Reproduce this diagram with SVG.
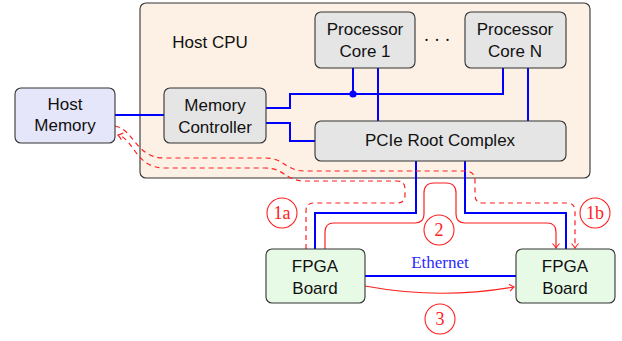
<svg xmlns="http://www.w3.org/2000/svg" width="622" height="341" viewBox="0 0 622 341">
<style>
.node{stroke:#333;stroke-width:1.1}
.gray{fill:#e5e5e5}
.lbl{font-family:"Liberation Sans",Arial,sans-serif;font-size:17px;fill:#111;text-anchor:middle}
.blue{fill:none;stroke:#0000ff;stroke-width:2}
.red{fill:none;stroke:#ff2020;stroke-width:1.2}
.dash{stroke-dasharray:5,4}
.num{font-family:"Liberation Serif","Times New Roman",serif;font-size:18px;fill:#ff2020;text-anchor:middle}
.circ{fill:none;stroke:#ff2020;stroke-width:1.1}
</style>
<defs>
<marker id="arr" viewBox="-6 -5 8 10" markerWidth="8" markerHeight="10" refX="0" refY="0" orient="auto" markerUnits="userSpaceOnUse">
<path d="M-4.5,-3.5 Q-1.5,-0.8 0,0 Q-1.5,0.8 -4.5,3.5" fill="none" stroke="#ff2020" stroke-width="1.1"/>
</marker>
</defs>
<g id="host-cpu">
<rect x="140" y="3" width="450" height="175" rx="6" fill="#fdf0e4" class="node"/>
<text x="210" y="48" class="lbl">Host CPU</text>
<text x="437" y="46" font-family="Liberation Serif,serif" font-size="18" text-anchor="middle" fill="#111">· · ·</text>
</g>
<g id="connectors">
<path class="blue" d="M115,115 H164"/>
<path class="blue" d="M266,108 H290 V94 H503 V68"/>
<path class="blue" d="M353,94 V68"/>
<circle cx="353" cy="94" r="3.6" fill="#0000ff"/>
<path class="blue" d="M266,123 H290 V141 H315"/>
<path class="blue" d="M378,68 V121"/>
<path class="blue" d="M528,68 V121"/>
<path class="blue" d="M416,161 V213 H315 V249"/>
<path class="blue" d="M465,161 V213 H566 V249"/>
<path class="blue" d="M365,276 H516"/>
<path class="red dash" d="M115,126 C135,130 135,158 165,158 H265 C285,158 285,171 305,171 H465 Q475,171 475,181 V195 Q475,203 483,203 H567 Q575,203 575,211 V248" marker-end="url(#arr)"/>
<path class="red dash" d="M306,249 V211 Q306,203 314,203 H397 Q405,203 405,195 V189 Q405,181 397,181 H305 C285,181 285,168 265,168 H165 C135,168 135,140 118,135" marker-end="url(#arr)"/>
<path class="red" d="M325,249 V232 Q325,223 334,223 H415 Q424,223 424,214 V193 Q424,183 434,183 H446 Q456,183 456,193 V214 Q456,223 465,223 H547 Q556,223 556,232 V248" marker-end="url(#arr)"/>
<path class="red" d="M365,286 Q440,300 514,287" marker-end="url(#arr)"/>
<text x="440" y="268" font-family="Liberation Serif,'Times New Roman',serif" font-size="17" fill="#2a2aff" text-anchor="middle">Ethernet</text>
<circle cx="282" cy="213" r="15" class="circ"/><text x="282" y="219" class="num">1a</text>
<circle cx="595" cy="213" r="15" class="circ"/><text x="595" y="219" class="num">1b</text>
<circle cx="439" cy="230" r="15" class="circ"/><text x="439" y="236" class="num">2</text>
<circle cx="440" cy="319" r="15" class="circ"/><text x="440" y="325" class="num">3</text>
</g>
<g id="host-memory">
<rect x="15" y="88" width="100" height="55" rx="6" fill="#e6e6fa" class="node"/>
<text x="65" y="110" class="lbl">Host</text>
<text x="65" y="131" class="lbl">Memory</text>
</g>
<g id="memory-controller">
<rect x="164" y="88" width="102" height="55" rx="6" class="node gray"/>
<text x="215" y="111" class="lbl">Memory</text>
<text x="215" y="133" class="lbl">Controller</text>
</g>
<g id="core-1">
<rect x="315" y="12" width="100" height="56" rx="6" class="node gray"/>
<text x="365" y="35" class="lbl">Processor</text>
<text x="365" y="57" class="lbl">Core 1</text>
</g>
<g id="core-n">
<rect x="465" y="12" width="101" height="56" rx="6" class="node gray"/>
<text x="515" y="35" class="lbl">Processor</text>
<text x="515" y="57" class="lbl">Core N</text>
</g>
<g id="pcie-root-complex">
<rect x="315" y="121" width="251" height="40" rx="6" class="node gray"/>
<text x="440" y="146" class="lbl">PCIe Root Complex</text>
</g>
<g id="fpga-1">
<rect x="266" y="249" width="99" height="54" rx="6" fill="#e6fae6" class="node"/>
<text x="315" y="272" class="lbl">FPGA</text>
<text x="315" y="294" class="lbl">Board</text>
</g>
<g id="fpga-2">
<rect x="516" y="249" width="99" height="54" rx="6" fill="#e6fae6" class="node"/>
<text x="565" y="272" class="lbl">FPGA</text>
<text x="565" y="294" class="lbl">Board</text>
</g>
</svg>
